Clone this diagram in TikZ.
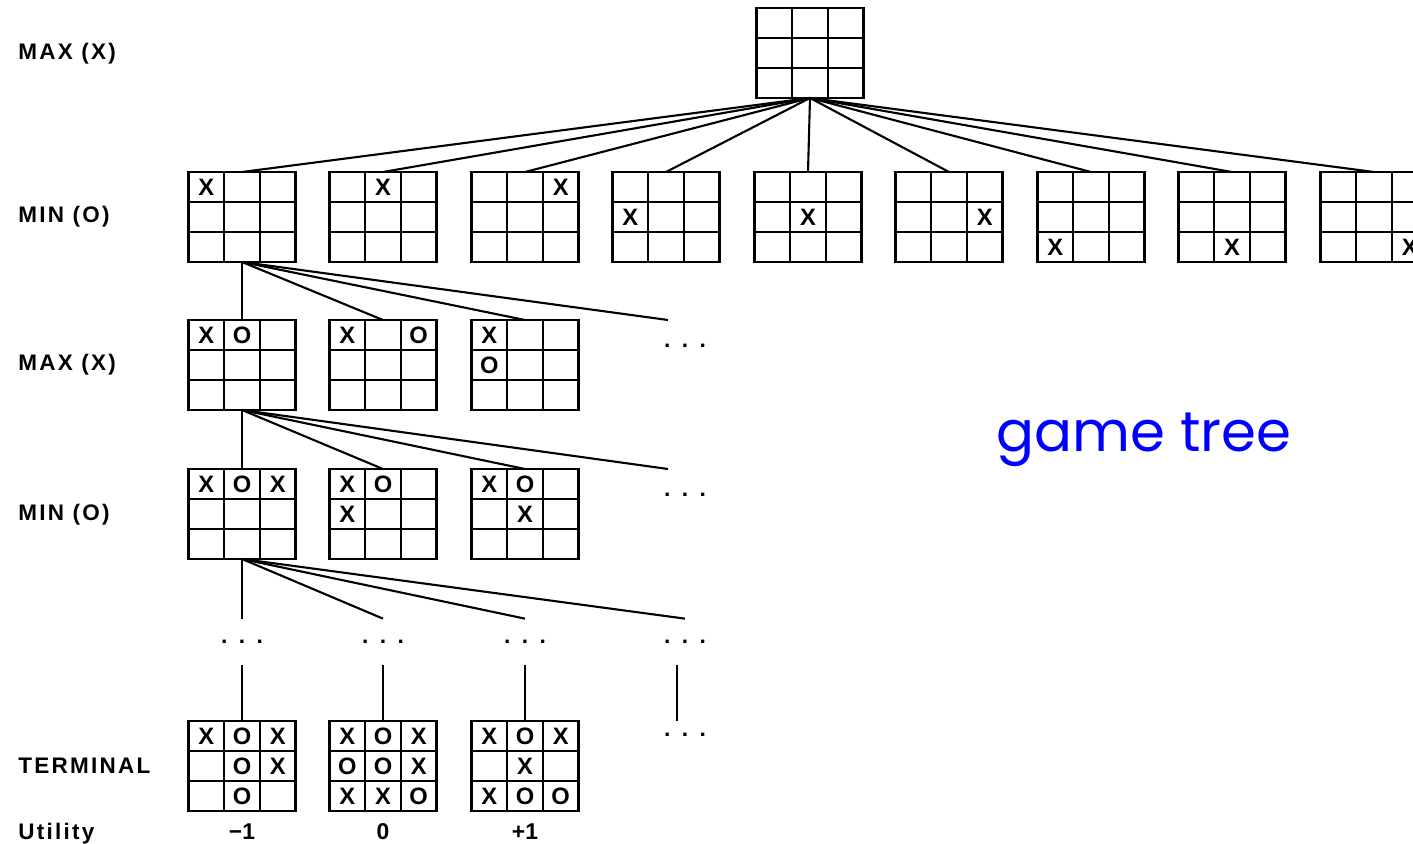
\documentclass[tikz,border=0pt]{standalone}
\usepackage{fontspec}
\setmainfont{Liberation Sans}
\newfontfamily\gamefont{Poppins}
\usetikzlibrary{calc}

\tikzset{
  board/.style={draw, line width=1.4pt, minimum width=2.14cm, minimum height=1.8cm,
    inner sep=0pt, outer sep=0pt,
    path picture={
      \foreach \t in {1,2} {
        \draw[line width=1.4pt] ($(path picture bounding box.north west)!\t/3!(path picture bounding box.north east)$)
          -- ($(path picture bounding box.south west)!\t/3!(path picture bounding box.south east)$);
        \draw[line width=1.4pt] ($(path picture bounding box.north west)!\t/3!(path picture bounding box.south west)$)
          -- ($(path picture bounding box.north east)!\t/3!(path picture bounding box.south east)$);
      }}},
  mark sym/.style={inner sep=0pt, font=\bfseries\fontsize{13.5}{15}\selectfont},
  edge/.style={line width=1.2pt},
  lbl/.style={anchor=base west, inner sep=0pt,
    font=\bfseries\fontsize{12.8}{15}\selectfont\addfontfeatures{LetterSpace=10}},
  util/.style={anchor=base, inner sep=0pt, font=\bfseries\fontsize{13}{15}\selectfont},
  dots/.style={inner sep=0pt, minimum height=0.92cm, font=\bfseries\fontsize{13}{15}\selectfont},
}

%% board: name, centre, marks col/row/symbol
\newcommand{\board}[3]{%
  \node[board] (#1) at (#2) {};
  \foreach \cc/\rr/\mm in {#3}
    \node[mark sym] (#1-\cc\rr) at ($(#1.north west)+(\cc*35.67-17.83,\rr*30-15)$) {\mm};
}
\newcommand{\dotrow}{.\hspace{6.5pt}.\hspace{6.5pt}.}

\begin{document}
\begin{tikzpicture}[x=0.02cm, y=-0.02cm]
\useasboundingbox (0,0) rectangle (1413,844);

%% levels
\node[lbl] (l1) at (18,60) {MAX (X)};
\node[lbl] (l2) at (18,223) {MIN (O)};
\node[lbl] (l3) at (18,371) {MAX (X)};
\node[lbl] (l4) at (18,520) {MIN (O)};
\node[lbl] (l5) at (18,773) {TERMINAL};
\node[lbl] (l6) at (18,839) {Utility};

%% root
\node[board] (root) at (810,53) {};

%% first move of X
\board{a1}{242,217}{1/1/X}
\board{a2}{383,217}{2/1/X}
\board{a3}{525,217}{3/1/X}
\board{a4}{666,217}{1/2/X}
\board{a5}{808,217}{2/2/X}
\board{a6}{949,217}{3/2/X}
\board{a7}{1091,217}{1/3/X}
\board{a8}{1232,217}{2/3/X}
\board{a9}{1374,217}{3/3/X}
\foreach \i in {1,...,9}
  \draw[edge] (root.south) -- (a\i.north);

%% reply of O
\board{b1}{242,365}{1/1/X, 2/1/O}
\board{b2}{383,365}{1/1/X, 3/1/O}
\board{b3}{525,365}{1/1/X, 1/2/O}
\coordinate (bx) at (668,320);
\node[dots] (bd) at (685,346) {\dotrow};
\foreach \n in {b1,b2,b3,bx}
  \draw[edge] (a1.south) -- (\n.north);

%% second move of X
\board{c1}{242,514}{1/1/X, 2/1/O, 3/1/X}
\board{c2}{383,514}{1/1/X, 2/1/O, 1/2/X}
\board{c3}{525,514}{1/1/X, 2/1/O, 2/2/X}
\coordinate (cx) at (668,469);
\node[dots] (cd) at (685,495) {\dotrow};
\foreach \n in {c1,c2,c3,cx}
  \draw[edge] (b1.south) -- (\n.north);

%% rest of the game
\node[dots] (d1) at (242,642) {\dotrow};
\node[dots] (d2) at (383,642) {\dotrow};
\node[dots] (d3) at (525,642) {\dotrow};
\node[dots] (d4) at (685,642) {\dotrow};
\foreach \n in {d1,d2,d3,d4}
  \draw[edge] (c1.south) -- (\n.north);

%% terminal states
\board{t1}{242,766}{1/1/X, 2/1/O, 3/1/X, 2/2/O, 3/2/X, 2/3/O}
\board{t2}{383,766}{1/1/X, 2/1/O, 3/1/X, 1/2/O, 2/2/O, 3/2/X, 1/3/X, 2/3/X, 3/3/O}
\board{t3}{525,766}{1/1/X, 2/1/O, 3/1/X, 2/2/X, 1/3/X, 2/3/O, 3/3/O}
\draw[edge] (d1.south) -- (t1.north);
\draw[edge] (d2.south) -- (t2.north);
\draw[edge] (d3.south) -- (t3.north);
\coordinate (tx) at (677,721);
\node[dots, minimum height=0pt] (d5) at (685,735) {\dotrow};
\draw[edge] (d4.south -| tx) -- (tx);

%% utility
\node[util] (u1) at (242,839) {−1};
\node[util] (u2) at (383,839) {0};
\node[util] (u3) at (525,839) {+1};

\node[font=\gamefont\fontsize{32}{38}\selectfont, text=blue] (gt) at (1144,440) {game tree};
\end{tikzpicture}
\end{document}
